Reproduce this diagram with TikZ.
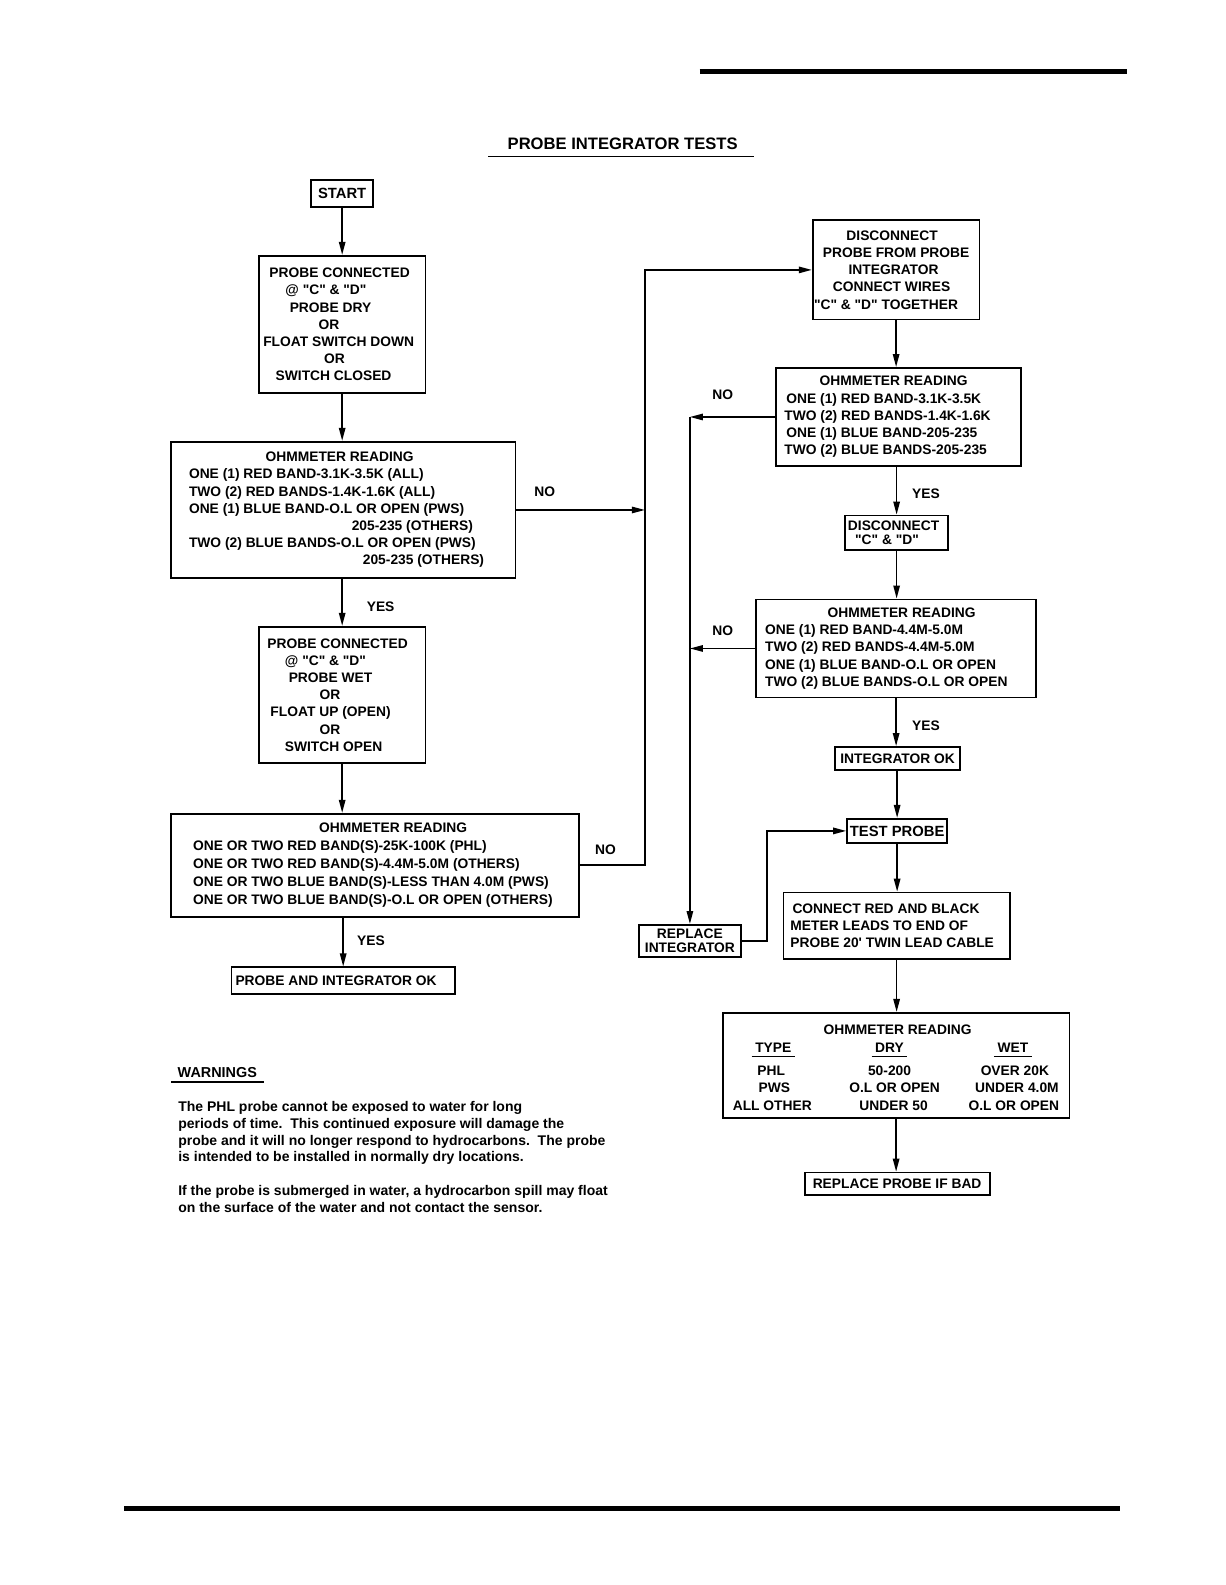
\documentclass[tikz,border=0pt]{standalone}
\usepackage{fontspec}
\setmainfont{Liberation Sans}[Ligatures=TeXOff]
\usetikzlibrary{arrows.meta,positioning}

\newlength{\px}
\setlength{\px}{0.50536pt}
\newcommand{\boxfont}{\fontsize{6.9}{8.6}\selectfont\bfseries}
\newcommand{\bigboxfont}{\fontsize{7.4}{8.6}\selectfont\bfseries}
\newcommand{\titlefont}{\fontsize{8.3}{10}\selectfont\bfseries}
\newcommand{\notefont}{\fontsize{7}{8.43}\selectfont\bfseries}
\newcommand{\rowl}[2]{\makebox[#1\px][l]{#2}}
\newcommand{\rowc}[2]{\makebox[#1\px][c]{#2}}

\tikzset{
  flowbox/.style={draw, line width=0.9pt, inner sep=0pt, align=center, font=\boxfont},
  leftbox/.style={flowbox, align=left},
  link/.style={line width=0.8pt, -{Triangle[length=6.5pt,width=3.2pt]}},
  answer/.style={inner sep=0pt, font=\boxfont},
  cell/.style={inner sep=0pt, anchor=base, font=\boxfont},
  pagerule/.style={line width=2.4pt},
  uline/.style={line width=0.6pt},
}

\begin{document}
\begin{tikzpicture}[x=0.50536pt,y=-0.50536pt]
\useasboundingbox (0,0) rectangle (1212,1568);
% Page rules and title
\draw[pagerule] (692,71) -- (1115,71);
\draw[pagerule] (123,1492) -- (1108,1492);
\node[font=\titlefont, inner sep=0pt] (title) at (616,142) {PROBE INTEGRATOR TESTS};
\draw[uline] (483,155) -- (746,155);

% Left column
\node[flowbox, font=\bigboxfont, minimum width=61\px, minimum height=27\px] (start) at (338.5,191.5) {START};
\node[flowbox, minimum width=165\px, minimum height=136\px] (dry) at (338.5,321)
  {PROBE CONNECTED\kern5\px\\ @ "C" \& "D"\kern32\px\\ PROBE DRY\kern23\px\\ OR\kern26\px\\
   FLOAT SWITCH DOWN\kern7\px\\ OR\kern15\px\\ SWITCH CLOSED\kern17\px};
\node[leftbox, minimum width=341\px, minimum height=135\px, inner xsep=18\px] (readA) at (339.5,504.5)
  {\rowc{305}{OHMMETER READING\kern7\px}\\
   \rowl{305}{ONE (1) RED BAND-3.1K-3.5K (ALL)}\\
   \rowl{305}{TWO (2) RED BANDS-1.4K-1.6K (ALL)}\\
   \rowl{305}{ONE (1) BLUE BAND-O.L OR OPEN (PWS)}\\
   \rowl{305}{\hspace{161\px}205-235 (OTHERS)}\\
   \rowl{305}{TWO (2) BLUE BANDS-O.L OR OPEN (PWS)}\\
   \rowl{305}{\hspace{172\px}205-235 (OTHERS)}};
\node[flowbox, minimum width=165\px, minimum height=135\px] (wet) at (338.5,687.5)
  {PROBE CONNECTED\kern9\px\\ @ "C" \& "D"\kern33\px\\ PROBE WET\kern23\px\\ OR\kern24\px\\
   FLOAT UP (OPEN)\kern23\px\\ OR\kern24\px\\ SWITCH OPEN\kern17\px};
\node[leftbox, font={\fontsize{6.9}{9}\selectfont\bfseries}, minimum width=404\px, minimum height=102\px, inner xsep=22\px] (readB) at (371,856)
  {\rowc{360}{\kern36\px OHMMETER READING}\\
   \rowl{360}{ONE OR TWO RED BAND(S)-25K-100K (PHL)}\\
   \rowl{360}{ONE OR TWO RED BAND(S)-4.4M-5.0M (OTHERS)}\\
   \rowl{360}{ONE OR TWO BLUE BAND(S)-LESS THAN 4.0M (PWS)}\\
   \rowl{360}{ONE OR TWO BLUE BAND(S)-O.L OR OPEN (OTHERS)}};
\node[leftbox, minimum width=221\px, minimum height=26\px, inner xsep=4\px] (ok) at (339.5,970)
  {\rowl{213}{PROBE AND INTEGRATOR OK}};

% Right column
\node[flowbox, minimum width=165\px, minimum height=98\px] (discA) at (886.5,267)
  {DISCONNECT\kern8\px\\ PROBE FROM PROBE\\ INTEGRATOR\kern5\px\\ CONNECT WIRES\kern9\px\\
   "C" \& "D" TOGETHER\kern20\px};
\node[leftbox, minimum width=242\px, minimum height=97\px, inner xsep=8\px] (readC) at (889,412.5)
  {\rowc{226}{OHMMETER READING\kern10\px}\\
   \rowl{226}{\kern2\px ONE (1) RED BAND-3.1K-3.5K}\\
   \rowl{226}{TWO (2) RED BANDS-1.4K-1.6K}\\
   \rowl{226}{\kern2\px ONE (1) BLUE BAND-205-235}\\
   \rowl{226}{TWO (2) BLUE BANDS-205-235}};
\node[flowbox, font={\fontsize{6.9}{7.2}\selectfont\bfseries}, minimum width=102\px, minimum height=34\px] (discB) at (887,527)
  {DISCONNECT\kern6\px\\ "C" \& "D"\kern19\px};
\node[leftbox, minimum width=277\px, minimum height=97\px, inner xsep=9\px] (readD) at (886.5,641.5)
  {\rowc{259}{\kern11\px OHMMETER READING}\\
   \rowl{259}{ONE (1) RED BAND-4.4M-5.0M}\\
   \rowl{259}{TWO (2) RED BANDS-4.4M-5.0M}\\
   \rowl{259}{ONE (1) BLUE BAND-O.L OR OPEN}\\
   \rowl{259}{TWO (2) BLUE BANDS-O.L OR OPEN}};
\node[flowbox, minimum width=124\px, minimum height=23\px] (intok) at (888,750.5) {INTEGRATOR OK};
\node[flowbox, font=\bigboxfont, minimum width=99\px, minimum height=24\px] (test) at (887.5,822) {TEST PROBE};
\node[flowbox, font={\fontsize{6.9}{7}\selectfont\bfseries}, minimum width=101\px, minimum height=32\px] (fixI) at (682.5,931)
  {REPLACE\\ INTEGRATOR};
\node[leftbox, font={\fontsize{6.9}{8.5}\selectfont\bfseries}, minimum width=224\px, minimum height=66\px, inner xsep=7\px] (leads) at (887,916)
  {\rowl{210}{\kern2\px CONNECT RED AND BLACK}\\
   \rowl{210}{METER LEADS TO END OF}\\
   \rowl{210}{PROBE 20' TWIN LEAD CABLE}};
\node[draw, line width=0.9pt, inner sep=0pt, minimum width=343\px, minimum height=104\px] (readE) at (886.5,1054) {};
\node[flowbox, minimum width=183\px, minimum height=22\px] (badP) at (887.5,1171) {REPLACE PROBE IF BAD};

% Table in readE
\node[cell] (eHead) at (888,1023) {OHMMETER READING};
\node[cell, inner xsep=1.6pt] (eType) at (765,1041) {TYPE};
\node[cell, inner xsep=1.6pt] (eDry) at (880,1041) {DRY};
\node[cell, inner xsep=1.6pt] (eWet) at (1002,1041) {WET};
\foreach \h in {eType,eDry,eWet}
  \draw[uline] ([yshift=-2.2pt]\h.base west) -- ([yshift=-2.2pt]\h.base east);
\node[cell] (ePhl) at (763,1064) {PHL};
\node[cell] (ePhlDry) at (880,1064) {50-200};
\node[cell] (ePhlWet) at (1004,1064) {OVER 20K};
\node[cell] (ePws) at (766,1081) {PWS};
\node[cell] (ePwsDry) at (885,1081) {O.L OR OPEN};
\node[cell] (ePwsWet) at (1006,1081) {UNDER 4.0M};
\node[cell] (eAll) at (764,1099) {ALL OTHER};
\node[cell] (eAllDry) at (884,1099) {UNDER 50};
\node[cell] (eAllWet) at (1003,1099) {O.L OR OPEN};

% Connectors, left column
\draw[link] (start) -- (dry);
\draw[link] (dry.south) -- (dry.south |- readA.north);
\draw[link] (wet.north |- readA.south) -- (wet.north);
\draw[link] (wet.south) -- (wet.south |- readB.north);
\draw[link] (ok.north |- readB.south) -- (ok.north);
\coordinate (noBus) at (638,267);
\draw[link] (readA.east) -- (readA.east -| noBus);
\draw[link] (readB.east) -| (noBus) -- (discA.west);

% Connectors, right column
\draw[link] (discA.south) -- (discA.south |- readC.north);
\draw[link] (discB.north |- readC.south) -- (discB.north);
\draw[link] (discB.south) -- (discB.south |- readD.north);
\draw[link] (readD.south) -- (readD.south |- intok.north);
\draw[link] (test.north |- intok.south) -- (test.north);
\draw[link] (test.south) -- (test.south |- leads.north);
\draw[link] (leads.south) -- (leads.south |- readE.north);
\draw[link] (readE.south) -- (readE.south |- badP.north);
\draw[link] (readC.west) -- (readC.west -| fixI.north);
\draw[link] (readC.west -| fixI.north) -- (fixI.north);
\draw[link] (readD.west) -- (readD.west -| fixI.north);
\draw[link] (fixI.east) -- ++(25,0) |- (test.west);

% YES / NO
\node[answer, right = 24\px of {(338.5,600)}] (yesA) {YES};
\node[answer, right = 14\px of {(339,931)}] (yesB) {YES};
\node[answer, right = 16\px of {(886,488)}] (yesC) {YES};
\node[answer, right = 16\px of {(886,718)}] (yesD) {YES};
\node[answer, above = 12\px of {(539,504)}] (noA) {NO};
\node[answer, above = 9\px of {(599,855)}] (noB) {NO};
\node[answer, above = 17\px of {(715,413)}] (noC) {NO};
\node[answer, above = 12\px of {(715,641)}] (noD) {NO};

% Warnings
\node[font={\fontsize{7.2}{8.6}\selectfont\bfseries}, inner sep=0pt] (warn) at (215,1061) {WARNINGS};
\draw[uline] ([xshift=-6\px, yshift=-4\px]warn.south west) -- ([xshift=7\px, yshift=-4\px]warn.south east);
\node[font=\notefont, align=left, inner sep=0pt, anchor=north west] (note) at (176,1089)
  {The PHL probe cannot be exposed to water for long\\
   periods of time.\ \ This continued exposure will damage the\\
   probe and it will no longer respond to hydrocarbons.\ \ The probe\\
   is intended to be installed in normally dry locations.\\[8.43pt]
   If the probe is submerged in water, a hydrocarbon spill may float\\
   on the surface of the water and not contact the sensor.};
\end{tikzpicture}
\end{document}
